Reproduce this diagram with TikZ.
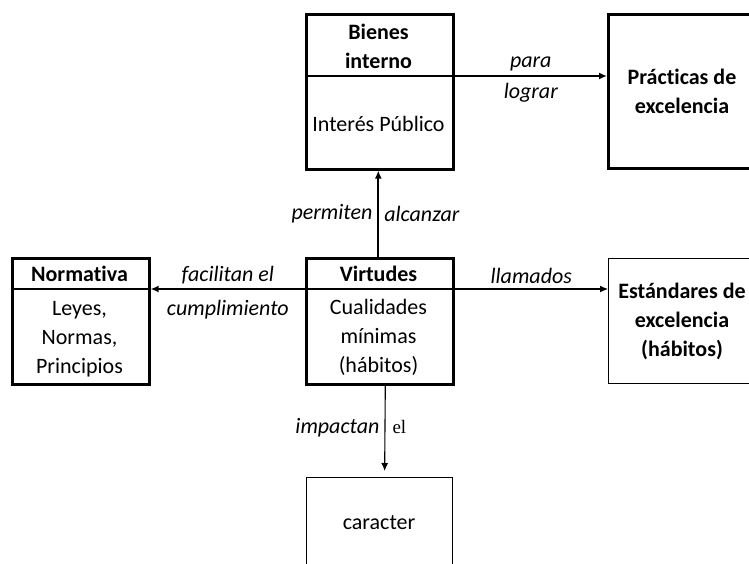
\documentclass[tikz,border=0pt]{standalone}
\usepackage{fontspec}
\setmainfont{Carlito}[Ligatures=NoCommon]
\newfontfamily\serifel{Liberation Serif}
\usetikzlibrary{arrows.meta,calc}
\tikzset{
  thickbox/.style={draw, line width=2.6pt, inner sep=0pt, anchor=north west},
  thinbox/.style={draw, line width=1.2pt, inner sep=0pt, anchor=north west},
  divline/.style={line width=1.2pt},
  txt/.style={align=center, inner sep=0pt, font=\fontsize{22}{29}\selectfont, text=black},
  lbl/.style={inner sep=0pt, font=\fontsize{22}{24}\selectfont\itshape, text=black},
  thickarrow/.style={line width=2pt, -{Latex[length=8pt,width=7pt]}},
  thinarrow/.style={line width=1.1pt, -{Latex[length=8pt,width=7pt]}}
}
\begin{document}
\begin{tikzpicture}[x=1pt,y=-1pt]
\useasboundingbox (0,0) rectangle (749,563);
\clip (0,0) rectangle (749,563);
% boxes
\node[thickbox, minimum width=147pt, minimum height=155pt] (bienes) at (305,13) {};
\node[thickbox, minimum width=150pt, minimum height=154pt] (practicas) at (607,13) {};
\node[thickbox, minimum width=137pt, minimum height=126pt] (normativa) at (11,257) {};
\node[thickbox, minimum width=147pt, minimum height=126pt] (virtudes) at (305,257) {};
\node[thinbox, minimum width=150pt, minimum height=125pt] (estandares) at (608,258) {};
\node[thinbox, minimum width=146pt, minimum height=100pt] (caracter) at (306,477) {};
% dividers
\coordinate (bdiv) at ($(bienes.north west)+(0,63)$);
\coordinate (ndiv) at ($(normativa.north west)+(0,32)$);
\coordinate (vdiv) at ($(virtudes.north west)+(0,32)$);
\draw[divline] (bdiv) -- (bdiv -| bienes.east);
\draw[divline] (ndiv) -- (ndiv -| normativa.east);
\draw[divline] (vdiv) -- (vdiv -| virtudes.east);
% texts
\node[txt] (bienesT) at (378.5,46) {\textbf{Bienes}\\\textbf{interno}};
\node[txt] (bienesB) at (378.5,124) {Interés Público};
\node[txt] (practicasT) at (682,91) {\textbf{Prácticas de}\\\textbf{excelencia}};
\node[txt] (normativaT) at (79.5,274) {\textbf{Normativa}};
\node[txt] (normativaB) at (79.5,339) {Leyes,\\Normas,\\Principios};
\node[txt] (virtudesT) at (378.5,274) {\textbf{Virtudes}};
\node[txt] (virtudesB) at (378.5,337) {Cualidades\\mínimas\\(hábitos)};
\node[txt] (estandaresT) at (682,321) {\textbf{Estándares de}\\\textbf{excelencia}\\\textbf{(hábitos)}};
\node[txt] (caracterT) at (379,523) {caracter};
% connectors
\draw[thickarrow] (bdiv -| bienes.east) -- (bdiv -| practicas.west)
  node[lbl, pos=0.5, above=4pt] (para) {para}
  node[lbl, pos=0.5, below=6pt] (lograr) {lograr};
\draw[thickarrow] (vdiv) -- (vdiv -| normativa.east)
  node[lbl, pos=0.5, above=4pt] (facilitan) {facilitan el}
  node[lbl, pos=0.5, below=10pt] (cumplimiento) {cumplimiento};
\draw[thinarrow] (vdiv -| virtudes.east) -- (vdiv -| estandares.west)
  node[lbl, pos=0.5, above=5pt] (llamados) {llamados};
\draw[thickarrow] ([xshift=-1.5pt]virtudes.north) -- ([xshift=-1.5pt]bienes.south)
  node[lbl, pos=0.5, left=5pt] (permiten) {permiten}
  node[lbl, pos=0.5, right=5pt] (alcanzar) {alcanzar};
\draw[thinarrow, shorten >=6pt] ([xshift=5.5pt]virtudes.south) -- ([xshift=5pt]caracter.north)
  node[lbl, pos=0.5, left=5pt, yshift=4pt] (impactan) {impactan}
  node[pos=0.5, right=7pt, yshift=4pt, inner sep=0pt, font=\serifel\fontsize{19}{22}\selectfont] (el) {el};
\end{tikzpicture}
\end{document}
